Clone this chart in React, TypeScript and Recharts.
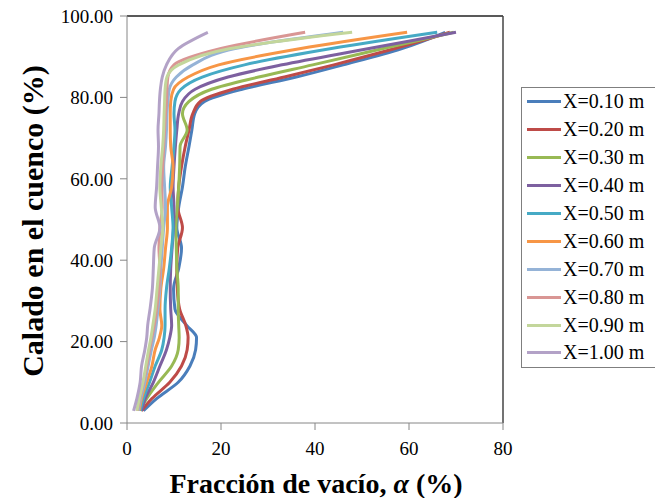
import { Line, LineChart, ReferenceLine, XAxis, YAxis } from 'recharts';

// calado (%) at which every profile was read
const depths = [3, 6, 10, 14, 18, 21, 24, 28, 33, 38, 43, 48, 53, 58, 63, 68, 72, 76, 79, 82, 85, 88, 92, 96];

// fracción de vacío (%) per section, same order as depths
const x010 = [3.5, 6.3, 10.9, 13.4, 14.6, 14.8, 12.7, 10.2, 9.9, 11.0, 11.6, 10.6, 11.0, 11.8, 12.4, 13.2, 13.8, 14.4, 16.5, 24.5, 36, 46, 58.5, 67.7];
const x020 = [3.1, 5.3, 9.1, 11.6, 12.8, 13.0, 12.5, 11.2, 10.7, 10.6, 10.8, 11.8, 10.8, 11.0, 11.6, 12.4, 13.2, 14.0, 15.6, 22.5, 33.5, 44, 57, 68.7];
const x030 = [2.8, 4.2, 6.7, 9.5, 10.9, 11.1, 11.0, 10.9, 10.9, 10.6, 10.5, 10.4, 10.7, 11.0, 11.2, 11.3, 12.8, 11.8, 13.2, 18, 28, 39.5, 54.5, 69.5];
const x040 = [3.1, 3.9, 5.6, 7.0, 8.4, 9.1, 9.5, 9.3, 9.2, 9.3, 9.6, 9.9, 10.0, 9.8, 10.0, 10.3, 10.6, 11.0, 11.8, 14.5, 21.5, 33, 51.5, 70];
const x050 = [2.8, 3.5, 4.8, 6.0, 7.4, 7.9, 8.1, 8.1, 8.4, 9.0, 9.5, 9.8, 9.5, 9.2, 9.6, 10.0, 10.2, 10.0, 10.2, 11.5, 16, 25, 43.5, 66];
const x060 = [2.6, 3.1, 4.2, 5.3, 6.0, 6.9, 7.4, 7.0, 7.2, 7.8, 8.2, 8.6, 8.6, 9.5, 9.8, 9.3, 9.2, 9.2, 9.3, 9.9, 13, 19.5, 37, 59.6];
const x070 = [2.4, 2.9, 3.8, 4.5, 5.2, 5.8, 6.2, 6.6, 7.0, 7.2, 7.5, 7.8, 8.2, 8.0, 7.8, 8.2, 8.4, 8.5, 8.7, 9.0, 10.5, 14, 23, 46];
const x080 = [2.2, 2.7, 3.5, 4.2, 4.8, 5.3, 5.8, 6.3, 6.8, 7.0, 6.8, 7.0, 7.5, 7.4, 7.6, 7.8, 8.0, 8.2, 8.4, 8.5, 8.7, 10, 20, 37.9];
const x090 = [2.1, 2.6, 3.4, 4.0, 4.6, 5.1, 5.5, 6.0, 6.4, 6.8, 7.2, 7.6, 7.3, 7.0, 7.2, 7.6, 7.8, 7.9, 8.0, 8.1, 8.5, 11, 22, 47.9];
const x100 = [1.4, 2.1, 2.8, 3.1, 3.8, 4.2, 4.4, 4.9, 5.4, 5.6, 5.8, 7.0, 6.0, 6.3, 6.5, 6.7, 6.6, 6.8, 6.9, 7.1, 7.5, 8.4, 10.9, 17.2];

const seriesNames = ['X=0.10 m', 'X=0.20 m', 'X=0.30 m', 'X=0.40 m', 'X=0.50 m', 'X=0.60 m', 'X=0.70 m', 'X=0.80 m', 'X=0.90 m', 'X=1.00 m'];
const seriesValues = [x010, x020, x030, x040, x050, x060, x070, x080, x090, x100];
const colors = ['#4A7EBB', '#BE4B48', '#98B954', '#7D60A0', '#46AAC5', '#F79646', '#95B3D7', '#D99694', '#C3D69B', '#B3A2C7'];

const xTicks = [0, 20, 40, 60, 80];
const yTicks = [0, 20, 40, 60, 80, 100];

const font = '"Liberation Serif", "Times New Roman", serif';

const series = seriesNames.map((name, i) => ({
  name,
  color: colors[i],
  data: depths.map((y, j) => ({ a: seriesValues[i][j], y })),
}));

const LegendBox = () => (
  <div style={{ position: 'absolute', left: 521, top: 87, border: '1px solid #7f7f7f', background: '#fff', width: 140, fontFamily: font, fontSize: 20, color: '#000' }}>
    {series.map((s) => (
      <div key={s.name} style={{ height: 27.9, display: 'flex', alignItems: 'center', paddingLeft: 5 }}>
        <span style={{ display: 'inline-block', width: 34, height: 3, background: s.color, marginRight: 2 }} />
        <span style={{ whiteSpace: 'nowrap' }}>{s.name}</span>
      </div>
    ))}
  </div>
);

const App = () => {
  return (
    <div style={{ position: 'absolute', left: 0, top: 0, width: 655, height: 498, overflow: 'hidden', background: '#fff' }}>
      <LineChart width={655} height={498} margin={{ top: 16, right: 152, bottom: 0, left: 0 }}>
        <XAxis
          type="number"
          dataKey="a"
          domain={[0, 80]}
          ticks={xTicks}
          allowDataOverflow
          height={75}
          stroke="#868686"
          tickSize={7}
          tickMargin={12}
          tick={{ fill: '#000', fontSize: 19, fontFamily: font }}
          label={{
            content: () => (
              <text x={316} y={493} textAnchor="middle" fontFamily={font} fontSize={28} fontWeight="bold" fill="#000">
                Fracción de vacío, <tspan fontStyle="italic">α</tspan> (%)
              </text>
            ),
          }}
        />
        <YAxis
          type="number"
          dataKey="y"
          domain={[0, 100]}
          ticks={yTicks}
          width={127}
          stroke="#868686"
          tickSize={7}
          tickMargin={7}
          tickFormatter={(v: number) => v.toFixed(2)}
          tick={{ fill: '#000', fontSize: 19, fontFamily: font }}
          label={{
            content: () => (
              <text transform="translate(43, 221) rotate(-90)" textAnchor="middle" fontFamily={font} fontSize={30} fontWeight="bold" fill="#000">
                Calado en el cuenco (%)
              </text>
            ),
          }}
        />
        <ReferenceLine y={100} stroke="#222" strokeWidth={1.5} />
        <ReferenceLine x={80} stroke="#444" strokeWidth={1.5} />
        {series.map((s) => (
          <Line
            key={s.name}
            data={s.data}
            dataKey="y"
            name={s.name}
            type="monotoneY"
            stroke={s.color}
            strokeWidth={3}
            dot={false}
            isAnimationActive={false}
          />
        ))}
      </LineChart>
      <LegendBox />
    </div>
  );
};

export default App;
